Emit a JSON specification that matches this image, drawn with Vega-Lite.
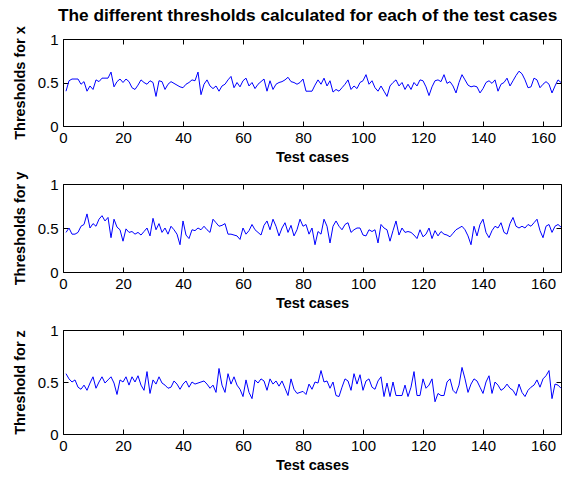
{
"$schema": "https://vega.github.io/schema/vega-lite/v6.json",
"padding": {"left": 12, "top": 7, "right": 0, "bottom": 0},
"background": "white",
"title": {"text": "The different thresholds calculated for each of the test cases", "font": "Liberation Sans", "fontSize": 17.3, "fontWeight": "bold", "color": "black", "anchor": "middle", "baseline": "alphabetic", "offset": -13, "dx": 20},
"config": {
  "view": {"stroke": null},
  "axis": {"domainColor": "black", "tickColor": "black", "labelColor": "black", "titleColor": "black", "labelFont": "Liberation Sans", "titleFont": "Liberation Sans", "labelFontSize": 15, "titleFontSize": 14.5, "titleFontWeight": "bold", "grid": false, "tickSize": -5, "domainWidth": 1, "tickWidth": 1, "labelFlush": false, "labelOverlap": false}
},
"datasets": {"d": [
{"case":1,"x":0.40,"y":0.45,"z":0.58},{"case":2,"x":0.52,"y":0.50,"z":0.53},{"case":3,"x":0.54,"y":0.43,"z":0.50},{"case":4,"x":0.54,"y":0.43,"z":0.52},{"case":5,"x":0.54,"y":0.45,"z":0.45},{"case":6,"x":0.48,"y":0.52,"z":0.43},{"case":7,"x":0.51,"y":0.54,"z":0.47},{"case":8,"x":0.40,"y":0.66,"z":0.42},{"case":9,"x":0.46,"y":0.50,"z":0.49},{"case":10,"x":0.42,"y":0.55,"z":0.55},
{"case":11,"x":0.53,"y":0.52,"z":0.44},{"case":12,"x":0.51,"y":0.60,"z":0.50},{"case":13,"x":0.55,"y":0.64,"z":0.55},{"case":14,"x":0.55,"y":0.58,"z":0.49},{"case":15,"x":0.55,"y":0.62,"z":0.52},{"case":16,"x":0.62,"y":0.39,"z":0.55},{"case":17,"x":0.45,"y":0.60,"z":0.49},{"case":18,"x":0.51,"y":0.51,"z":0.38},{"case":19,"x":0.54,"y":0.48,"z":0.52},{"case":20,"x":0.50,"y":0.35,"z":0.50},
{"case":21,"x":0.54,"y":0.49,"z":0.55},{"case":22,"x":0.51,"y":0.45,"z":0.47},{"case":23,"x":0.44,"y":0.46,"z":0.55},{"case":24,"x":0.42,"y":0.43,"z":0.50},{"case":25,"x":0.47,"y":0.45,"z":0.56},{"case":26,"x":0.53,"y":0.42,"z":0.47},{"case":27,"x":0.50,"y":0.46,"z":0.42},{"case":28,"x":0.48,"y":0.50,"z":0.60},{"case":29,"x":0.52,"y":0.41,"z":0.39},{"case":30,"x":0.50,"y":0.61,"z":0.52},
{"case":31,"x":0.34,"y":0.48,"z":0.48},{"case":32,"x":0.52,"y":0.55,"z":0.55},{"case":33,"x":0.51,"y":0.45,"z":0.49},{"case":34,"x":0.42,"y":0.50,"z":0.47},{"case":35,"x":0.48,"y":0.43,"z":0.44},{"case":36,"x":0.51,"y":0.52,"z":0.45},{"case":37,"x":0.49,"y":0.48,"z":0.51},{"case":38,"x":0.47,"y":0.43,"z":0.48},{"case":39,"x":0.45,"y":0.31,"z":0.43},{"case":40,"x":0.44,"y":0.58,"z":0.48},
{"case":41,"x":0.48,"y":0.42,"z":0.51},{"case":42,"x":0.50,"y":0.38,"z":0.45},{"case":43,"x":0.53,"y":0.48,"z":0.50},{"case":44,"x":0.52,"y":0.47,"z":0.48},{"case":45,"x":0.62,"y":0.50,"z":0.49},{"case":46,"x":0.36,"y":0.48,"z":0.50},{"case":47,"x":0.48,"y":0.52,"z":0.51},{"case":48,"x":0.53,"y":0.48,"z":0.48},{"case":49,"x":0.46,"y":0.45,"z":0.44},{"case":50,"x":0.43,"y":0.60,"z":0.47},
{"case":51,"x":0.46,"y":0.56,"z":0.40},{"case":52,"x":0.40,"y":0.52,"z":0.63},{"case":53,"x":0.46,"y":0.53,"z":0.47},{"case":54,"x":0.48,"y":0.55,"z":0.40},{"case":55,"x":0.53,"y":0.43,"z":0.58},{"case":56,"x":0.57,"y":0.43,"z":0.48},{"case":57,"x":0.44,"y":0.42,"z":0.55},{"case":58,"x":0.50,"y":0.41,"z":0.47},{"case":59,"x":0.45,"y":0.37,"z":0.43},{"case":60,"x":0.52,"y":0.50,"z":0.36},
{"case":61,"x":0.55,"y":0.43,"z":0.52},{"case":62,"x":0.46,"y":0.47,"z":0.40},{"case":63,"x":0.50,"y":0.54,"z":0.34},{"case":64,"x":0.43,"y":0.48,"z":0.52},{"case":65,"x":0.48,"y":0.45,"z":0.49},{"case":66,"x":0.51,"y":0.42,"z":0.53},{"case":67,"x":0.54,"y":0.53,"z":0.51},{"case":68,"x":0.40,"y":0.58,"z":0.42},{"case":69,"x":0.52,"y":0.48,"z":0.53},{"case":70,"x":0.42,"y":0.60,"z":0.48},
{"case":71,"x":0.48,"y":0.52,"z":0.51},{"case":72,"x":0.50,"y":0.41,"z":0.46},{"case":73,"x":0.51,"y":0.50,"z":0.51},{"case":74,"x":0.53,"y":0.56,"z":0.44},{"case":75,"x":0.56,"y":0.45,"z":0.37},{"case":76,"x":0.51,"y":0.53,"z":0.53},{"case":77,"x":0.50,"y":0.41,"z":0.43},{"case":78,"x":0.48,"y":0.48,"z":0.39},{"case":79,"x":0.50,"y":0.60,"z":0.40},{"case":80,"x":0.54,"y":0.52,"z":0.41},
{"case":81,"x":0.40,"y":0.54,"z":0.38},{"case":82,"x":0.40,"y":0.43,"z":0.48},{"case":83,"x":0.40,"y":0.50,"z":0.43},{"case":84,"x":0.47,"y":0.31,"z":0.50},{"case":85,"x":0.53,"y":0.46,"z":0.49},{"case":86,"x":0.48,"y":0.43,"z":0.61},{"case":87,"x":0.55,"y":0.60,"z":0.50},{"case":88,"x":0.46,"y":0.52,"z":0.51},{"case":89,"x":0.52,"y":0.33,"z":0.44},{"case":90,"x":0.39,"y":0.52,"z":0.50},
{"case":91,"x":0.42,"y":0.58,"z":0.37},{"case":92,"x":0.40,"y":0.52,"z":0.36},{"case":93,"x":0.44,"y":0.48,"z":0.45},{"case":94,"x":0.48,"y":0.54,"z":0.53},{"case":95,"x":0.53,"y":0.56,"z":0.51},{"case":96,"x":0.42,"y":0.45,"z":0.42},{"case":97,"x":0.46,"y":0.48,"z":0.58},{"case":98,"x":0.43,"y":0.50,"z":0.48},{"case":99,"x":0.50,"y":0.50,"z":0.57},{"case":100,"x":0.52,"y":0.42,"z":0.42},
{"case":101,"x":0.59,"y":0.41,"z":0.51},{"case":102,"x":0.48,"y":0.48,"z":0.53},{"case":103,"x":0.52,"y":0.46,"z":0.45},{"case":104,"x":0.44,"y":0.48,"z":0.43},{"case":105,"x":0.40,"y":0.33,"z":0.51},{"case":106,"x":0.46,"y":0.54,"z":0.55},{"case":107,"x":0.40,"y":0.50,"z":0.36},{"case":108,"x":0.34,"y":0.48,"z":0.49},{"case":109,"x":0.46,"y":0.35,"z":0.36},{"case":110,"x":0.50,"y":0.47,"z":0.50},
{"case":111,"x":0.53,"y":0.58,"z":0.37},{"case":112,"x":0.46,"y":0.42,"z":0.37},{"case":113,"x":0.50,"y":0.50,"z":0.37},{"case":114,"x":0.42,"y":0.45,"z":0.47},{"case":115,"x":0.48,"y":0.46,"z":0.36},{"case":116,"x":0.42,"y":0.45,"z":0.45},{"case":117,"x":0.50,"y":0.42,"z":0.60},{"case":118,"x":0.46,"y":0.38,"z":0.37},{"case":119,"x":0.53,"y":0.48,"z":0.37},{"case":120,"x":0.52,"y":0.40,"z":0.53},
{"case":121,"x":0.45,"y":0.43,"z":0.44},{"case":122,"x":0.35,"y":0.50,"z":0.47},{"case":123,"x":0.45,"y":0.38,"z":0.53},{"case":124,"x":0.52,"y":0.47,"z":0.31},{"case":125,"x":0.53,"y":0.41,"z":0.39},{"case":126,"x":0.51,"y":0.46,"z":0.37},{"case":127,"x":0.59,"y":0.43,"z":0.37},{"case":128,"x":0.49,"y":0.42,"z":0.50},{"case":129,"x":0.51,"y":0.40,"z":0.53},{"case":130,"x":0.46,"y":0.44,"z":0.42},
{"case":131,"x":0.38,"y":0.48,"z":0.39},{"case":132,"x":0.50,"y":0.50,"z":0.47},{"case":133,"x":0.59,"y":0.52,"z":0.64},{"case":134,"x":0.53,"y":0.48,"z":0.53},{"case":135,"x":0.47,"y":0.41,"z":0.40},{"case":136,"x":0.45,"y":0.31,"z":0.48},{"case":137,"x":0.46,"y":0.52,"z":0.53},{"case":138,"x":0.45,"y":0.41,"z":0.51},{"case":139,"x":0.38,"y":0.54,"z":0.45},{"case":140,"x":0.43,"y":0.60,"z":0.39},
{"case":141,"x":0.50,"y":0.45,"z":0.50},{"case":142,"x":0.52,"y":0.39,"z":0.56},{"case":143,"x":0.49,"y":0.47,"z":0.39},{"case":144,"x":0.53,"y":0.52,"z":0.50},{"case":145,"x":0.40,"y":0.50,"z":0.47},{"case":146,"x":0.48,"y":0.56,"z":0.42},{"case":147,"x":0.50,"y":0.45,"z":0.44},{"case":148,"x":0.55,"y":0.43,"z":0.48},{"case":149,"x":0.46,"y":0.55,"z":0.44},{"case":150,"x":0.52,"y":0.62,"z":0.42},
{"case":151,"x":0.58,"y":0.52,"z":0.37},{"case":152,"x":0.63,"y":0.50,"z":0.48},{"case":153,"x":0.60,"y":0.52,"z":0.40},{"case":154,"x":0.53,"y":0.50,"z":0.36},{"case":155,"x":0.44,"y":0.54,"z":0.42},{"case":156,"x":0.45,"y":0.52,"z":0.45},{"case":157,"x":0.55,"y":0.56,"z":0.47},{"case":158,"x":0.53,"y":0.60,"z":0.52},{"case":159,"x":0.44,"y":0.47,"z":0.45},{"case":160,"x":0.48,"y":0.39,"z":0.53},
{"case":161,"x":0.51,"y":0.52,"z":0.56},{"case":162,"x":0.48,"y":0.54,"z":0.61},{"case":163,"x":0.38,"y":0.45,"z":0.34},{"case":164,"x":0.46,"y":0.52,"z":0.48},{"case":165,"x":0.53,"y":0.54,"z":0.47},{"case":166,"x":0.50,"y":0.51,"z":0.44}
]},
"data": {"name": "d"},
"bounds": "flush",
"spacing": 58,
"vconcat": [
 {"width": 498, "height": 87,
  "layer": [
   {"mark": {"type": "line", "color": "#0000ff", "strokeWidth": 1},
    "encoding": {
     "x": {"field": "case", "type": "quantitative", "scale": {"domain": [0, 166], "nice": false, "zero": false}, "axis": {"orient": "bottom", "values": [0,20,40,60,80,100,120,140,160], "format": "d", "title": "Test cases", "labelPadding": 9, "titlePadding": 5}},
     "y": {"field": "x", "type": "quantitative", "scale": {"domain": [0, 1], "nice": false}, "axis": {"orient": "left", "values": [0, 0.5, 1], "format": "~g", "title": "Thresholds for x", "labelPadding": 10, "titlePadding": 10}}}},
   {"mark": {"type": "line", "strokeOpacity": 0},
    "encoding": {
     "x": {"field": "case", "type": "quantitative", "scale": {"domain": [0, 166], "nice": false, "zero": false}, "axis": {"orient": "top", "values": [0,20,40,60,80,100,120,140,160], "labels": false, "title": null}},
     "y": {"field": "x", "type": "quantitative", "scale": {"domain": [0, 1], "nice": false}, "axis": {"orient": "right", "values": [0, 0.5, 1], "labels": false, "title": null}}}}
  ],
  "resolve": {"axis": {"x": "independent", "y": "independent"}}},
 {"width": 498, "height": 88,
  "layer": [
   {"mark": {"type": "line", "color": "#0000ff", "strokeWidth": 1},
    "encoding": {
     "x": {"field": "case", "type": "quantitative", "scale": {"domain": [0, 166], "nice": false, "zero": false}, "axis": {"orient": "bottom", "values": [0,20,40,60,80,100,120,140,160], "format": "d", "title": "Test cases", "labelPadding": 9, "titlePadding": 5}},
     "y": {"field": "y", "type": "quantitative", "scale": {"domain": [0, 1], "nice": false}, "axis": {"orient": "left", "values": [0, 0.5, 1], "format": "~g", "title": "Thresholds for y", "labelPadding": 10, "titlePadding": 10}}}},
   {"mark": {"type": "line", "strokeOpacity": 0},
    "encoding": {
     "x": {"field": "case", "type": "quantitative", "scale": {"domain": [0, 166], "nice": false, "zero": false}, "axis": {"orient": "top", "values": [0,20,40,60,80,100,120,140,160], "labels": false, "title": null}},
     "y": {"field": "y", "type": "quantitative", "scale": {"domain": [0, 1], "nice": false}, "axis": {"orient": "right", "values": [0, 0.5, 1], "labels": false, "title": null}}}}
  ],
  "resolve": {"axis": {"x": "independent", "y": "independent"}}},
 {"width": 498, "height": 104,
  "layer": [
   {"mark": {"type": "line", "color": "#0000ff", "strokeWidth": 1},
    "encoding": {
     "x": {"field": "case", "type": "quantitative", "scale": {"domain": [0, 166], "nice": false, "zero": false}, "axis": {"orient": "bottom", "values": [0,20,40,60,80,100,120,140,160], "format": "d", "title": "Test cases", "labelPadding": 9, "titlePadding": 5}},
     "y": {"field": "z", "type": "quantitative", "scale": {"domain": [0, 1], "nice": false}, "axis": {"orient": "left", "values": [0, 0.5, 1], "format": "~g", "title": "Threshold for z", "labelPadding": 10, "titlePadding": 10}}}},
   {"mark": {"type": "line", "strokeOpacity": 0},
    "encoding": {
     "x": {"field": "case", "type": "quantitative", "scale": {"domain": [0, 166], "nice": false, "zero": false}, "axis": {"orient": "top", "values": [0,20,40,60,80,100,120,140,160], "labels": false, "title": null}},
     "y": {"field": "z", "type": "quantitative", "scale": {"domain": [0, 1], "nice": false}, "axis": {"orient": "right", "values": [0, 0.5, 1], "labels": false, "title": null}}}}
  ],
  "resolve": {"axis": {"x": "independent", "y": "independent"}}}
]
}
